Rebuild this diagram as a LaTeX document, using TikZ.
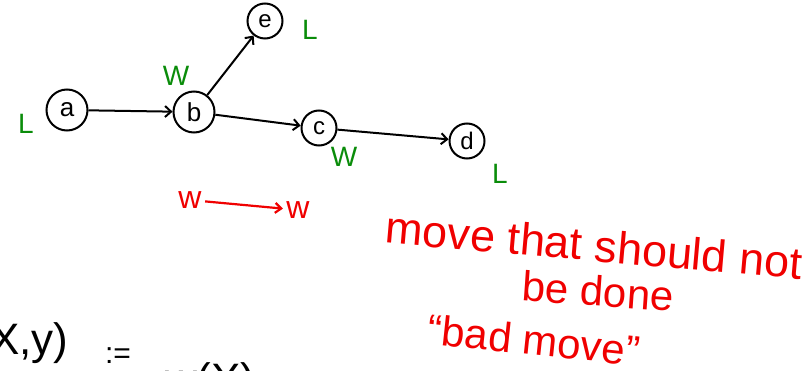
\documentclass[tikz,border=0pt]{standalone}
\usepackage{fontspec}
\setmainfont{Liberation Sans}
\usetikzlibrary{arrows.meta}
\definecolor{hgreen}{RGB}{10,140,10}
\definecolor{hred}{RGB}{240,0,0}
\tikzset{
  state/.style={circle,draw,line width=2pt,minimum size=41pt,inner sep=0pt,font=\fontsize{26}{26}\selectfont},
  smallstate/.style={state,minimum size=35pt,font=\fontsize{24}{24}\selectfont},
  edge/.style={line width=2pt,-{Straight Barb[length=6pt,width=11pt]}},
  glabel/.style={text=hgreen,font=\fontsize{28}{28}\selectfont},
  rtext/.style={text=hred,font=\fontsize{42}{42}\selectfont,inner sep=1pt},
  rw/.style={text=hred,font=\fontsize{32}{32}\selectfont},
  redge/.style={draw=hred,line width=2.2pt,-{Straight Barb[length=6pt,width=10pt]}},
  btext/.style={font=\fontsize{44}{44}\selectfont}
}
\begin{document}
\begin{tikzpicture}[x=1pt,y=-1pt]
\useasboundingbox (0,0) rectangle (810,371);
\node[state] (a) at (67,110) {a};
\node[state] (b) at (194,112) {b};
\node[smallstate] (e) at (265,21) {e};
\node[smallstate] (c) at (319,128) {c};
\node[smallstate] (d) at (467,141) {d};
\draw[edge] (a) -- (b);
\draw[edge] (b) -- (e);
\draw[edge] (b) -- (c);
\draw[edge] (c) -- (d);
\node[glabel] (la) at (26,124) {L};
\node[glabel] (lb) at (176,76) {W};
\node[glabel] (le) at (310,30) {L};
\node[glabel] (lc) at (344,157) {W};
\node[glabel] (ld) at (500,174) {L};
\node[rw] (w1) at (190,200) {w};
\node[rw] (w2) at (298,210) {w};
\draw[redge] (w1) -- (w2);
\node[rtext,rotate=-5,font=\fontsize{45}{45}\selectfont] (t1) at (594,245) {move that should not};
\node[rtext,rotate=-4] (t2) at (598,291) {be done};
\node[rtext,rotate=-6] (t3) at (534,340) {``bad move''};
\node[btext,anchor=east] (xy) at (72,343) {(X,y)};
\node[font=\fontsize{30}{30}\selectfont] (def) at (118,356) {:=};
\node[btext,anchor=north west,inner sep=0pt] (wx) at (165,362) {w(X)};
\end{tikzpicture}
\end{document}
